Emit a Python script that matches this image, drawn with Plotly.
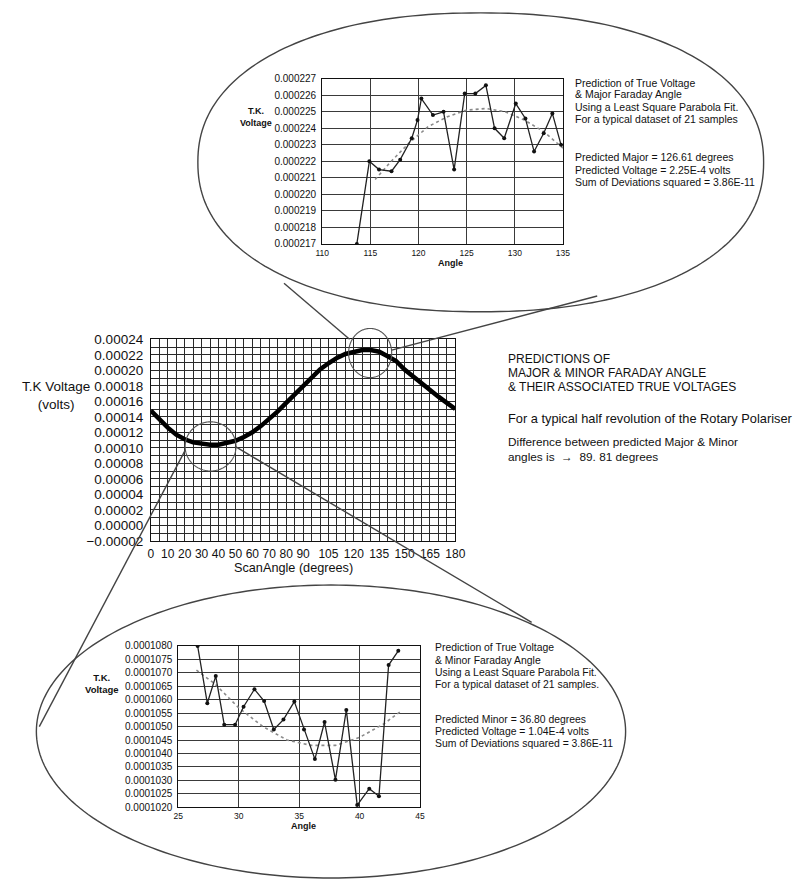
import numpy as np
import plotly.graph_objects as go

W, H = 802, 885

# ---------------- data ----------------
# Main chart: T.K. voltage against scan angle (half revolution)
scan_angle = [0, 5, 10, 15, 20, 25, 30, 35, 40, 45, 50, 55, 60, 65, 70, 75, 80, 85, 90,
              95, 100, 105, 110, 115, 120, 125, 130, 135, 140, 145, 150, 155, 160, 165,
              170, 175, 180]
tk_voltage = [0.000148, 0.000136, 0.000126, 0.000117, 0.000111, 0.000107, 0.000105,
              0.000104, 0.000104, 0.000106, 0.000109, 0.000114, 0.000120, 0.000128,
              0.000137, 0.000147, 0.000158, 0.000169, 0.000180, 0.000191, 0.000201,
              0.000209, 0.000216, 0.000221, 0.000224, 0.000226, 0.000226, 0.000224,
              0.000218, 0.000212, 0.000201, 0.000192, 0.000183, 0.000174, 0.000166,
              0.000158, 0.000150]
main_tickvals = [0, 10, 20, 30, 40, 50, 60, 70, 80, 90, 105, 120, 135, 150, 165, 180]
main_ytickvals = [-0.00002, 0.0, 0.00002, 0.00004, 0.00006, 0.00008, 0.00010, 0.00012,
                  0.00014, 0.00016, 0.00018, 0.00020, 0.00022, 0.00024]

# Top inset: major Faraday angle samples
major_angle = [113.6, 114.9, 115.9, 117.2, 118.1, 119.3, 119.9, 120.3, 121.5, 122.6, 123.7,
               124.8, 125.9, 127.0, 127.9, 128.9, 130.1, 131.1, 132.0, 133.0, 133.9, 134.8]
major_volt = [0.0002170, 0.0002220, 0.0002215, 0.0002214, 0.0002221, 0.0002234, 0.0002245,
              0.0002258, 0.0002248, 0.0002250, 0.0002215, 0.0002261, 0.0002261, 0.0002266,
              0.0002240, 0.0002234, 0.0002255, 0.0002246, 0.0002226, 0.0002237, 0.0002249,
              0.0002230]
major_fit_angle = [115.5, 117, 119, 121, 123, 125, 127, 129, 131, 133, 135]
major_fit_volt = [0.0002209, 0.0002219, 0.0002231, 0.0002241, 0.0002247, 0.0002251,
                  0.0002252, 0.0002250, 0.0002245, 0.0002238, 0.0002228]

# Bottom inset: minor Faraday angle samples
minor_angle = [26.6, 27.4, 28.1, 28.8, 29.7, 30.4, 31.3, 32.1, 32.9, 33.7, 34.6, 35.4,
               36.3, 37.1, 38.0, 38.9, 39.8, 40.8, 41.6, 42.4, 43.2]
minor_volt = [0.0001080, 0.00010587, 0.00010688, 0.00010507, 0.00010507, 0.00010574,
              0.00010639, 0.00010595, 0.00010489, 0.00010526, 0.00010593, 0.00010489,
              0.00010379, 0.00010517, 0.00010302, 0.00010562, 0.00010208, 0.00010269,
              0.00010241, 0.00010729, 0.00010782]
minor_fit_angle = [26.5, 28, 30, 32, 34, 36, 38, 40, 42, 43.5]
minor_fit_volt = [0.0001071, 0.0001066, 0.0001057, 0.0001050, 0.0001045, 0.0001043,
                  0.0001043, 0.0001046, 0.0001051, 0.0001056]

top_text = ["Prediction of True Voltage", "& Major Faraday Angle",
            "Using a Least Square Parabola Fit.", "For a typical dataset of 21 samples",
            "Predicted Major = 126.61 degrees", "Predicted Voltage = 2.25E-4 volts",
            "Sum of Deviations squared = 3.86E-11"]
bottom_text = ["Prediction of True Voltage", "& Minor Faraday Angle",
               "Using a Least Square Parabola Fit.", "For a typical dataset of 21 samples.",
               "Predicted Minor = 36.80 degrees", "Predicted Voltage = 1.04E-4 volts",
               "Sum of Deviations squared = 3.86E-11"]
main_caps_text = ["PREDICTIONS OF", "MAJOR & MINOR FARADAY ANGLE",
                  "& THEIR ASSOCIATED TRUE VOLTAGES"]
main_note = "For a typical half revolution of the Rotary Polariser"
main_diff = ["Difference between predicted Major & Minor",
             "angles is  \u2192  89. 81 degrees"]

FONT = "Liberation Sans, Arial, sans-serif"
INK = "#111111"


def px(x):
    return x / W


def py(y):
    return 1 - y / H


fig = go.Figure()

# main curve
fig.add_trace(go.Scatter(x=scan_angle, y=tk_voltage, mode="lines",
                         line=dict(color="black", width=4.5), xaxis="x", yaxis="y",
                         showlegend=False))
# top inset
fig.add_trace(go.Scatter(x=major_fit_angle, y=major_fit_volt, mode="lines",
                         line=dict(color="#8a8a8a", width=1.6, dash="dot"),
                         xaxis="x2", yaxis="y2", showlegend=False))
fig.add_trace(go.Scatter(x=major_angle, y=major_volt, mode="lines+markers",
                         line=dict(color="#222", width=1.3),
                         marker=dict(color="#111", size=4),
                         xaxis="x2", yaxis="y2", showlegend=False))
# bottom inset
fig.add_trace(go.Scatter(x=minor_fit_angle, y=minor_fit_volt, mode="lines",
                         line=dict(color="#8a8a8a", width=1.6, dash="dot"),
                         xaxis="x3", yaxis="y3", showlegend=False))
fig.add_trace(go.Scatter(x=minor_angle, y=minor_volt, mode="lines+markers",
                         line=dict(color="#222", width=1.3),
                         marker=dict(color="#111", size=4),
                         xaxis="x3", yaxis="y3", showlegend=False))

grid_main = "#2a2a2a"
grid_in = "#3a3a3a"

common_axis = dict(showline=True, linecolor="#111", linewidth=1, mirror=True,
                   zeroline=False, ticks="", color=INK)

fig.update_layout(
    width=W, height=H, margin=dict(l=0, r=0, t=0, b=0),
    paper_bgcolor="white", plot_bgcolor="white",
    font=dict(family=FONT, color=INK),
    xaxis=dict(domain=[px(147), px(458)], range=[0, 180], anchor="y",
               tickmode="array", tickvals=main_tickvals,
               ticktext=[str(v) for v in main_tickvals],
               showgrid=True, gridcolor=grid_main, gridwidth=1,
               minor=dict(tickmode="linear", tick0=0, dtick=5, showgrid=True,
                          gridcolor=grid_main, gridwidth=1),
               tickfont=dict(size=12), ticklabelstandoff=2, **common_axis),
    yaxis=dict(domain=[py(543), py(338)], range=[-0.00002, 0.00024], anchor="x",
               tickmode="array", tickvals=main_ytickvals, tickformat=".5f",
               showgrid=True, gridcolor=grid_main, gridwidth=1,
               minor=dict(tickmode="linear", tick0=0, dtick=0.00001, showgrid=True,
                          gridcolor=grid_main, gridwidth=1),
               tickfont=dict(size=13.5), ticklabelstandoff=4, **common_axis),
    xaxis2=dict(domain=[px(322), px(568)], range=[110, 135], anchor="y2",
                dtick=5, tick0=110, showgrid=True, gridcolor=grid_in, gridwidth=1,
                tickfont=dict(size=8.5), ticklabelstandoff=1, **common_axis),
    yaxis2=dict(domain=[py(241), py(73)], range=[0.000217, 0.000227], anchor="x2",
                dtick=0.000001, tick0=0.000217, tickformat=".6f",
                showgrid=True, gridcolor=grid_in, gridwidth=1,
                tickfont=dict(size=10), ticklabelstandoff=3, **common_axis),
    xaxis3=dict(domain=[px(175), px(422)], range=[25, 45], anchor="y3",
                dtick=5, tick0=25, showgrid=True, gridcolor=grid_in, gridwidth=1,
                tickfont=dict(size=8.5), ticklabelstandoff=1, **common_axis),
    yaxis3=dict(domain=[py(814), py(650)], range=[0.000102, 0.000108], anchor="x3",
                dtick=0.0000005, tick0=0.000102, tickformat=".7f",
                showgrid=True, gridcolor=grid_in, gridwidth=1,
                tickfont=dict(size=10), ticklabelstandoff=3, **common_axis),
)


def oval_path(cx, cy, rx, ry, n=2.0, steps=240):
    pts = []
    for t in np.linspace(0, 2 * np.pi, steps, endpoint=False):
        c, s = np.cos(t), np.sin(t)
        x = cx + rx * np.sign(c) * abs(c) ** (2 / n)
        y = cy + ry * np.sign(s) * abs(s) ** (2 / n)
        pts.append(f"{px(x):.5f},{py(y):.5f}")
    return "M " + " L ".join(pts) + " Z"


line_style = dict(color="#444444", width=1.4)
shapes = [
    dict(type="path", xref="paper", yref="paper", path=oval_path(484, 158, 289, 152, 2.2),
         line=line_style, layer="above"),
    dict(type="path", xref="paper", yref="paper", path=oval_path(331, 737, 301, 149, 2.0),
         line=line_style, layer="above"),
    dict(type="path", xref="paper", yref="paper", path=oval_path(371, 352, 22, 25, 2.0),
         line=dict(color="#555", width=1.1), layer="above"),
    dict(type="path", xref="paper", yref="paper", path=oval_path(208, 447, 26, 25, 2.0),
         line=dict(color="#555", width=1.1), layer="above"),
]
for (x0, y0, x1, y1) in [(283, 281, 350, 338), (393, 349, 603, 294),
                         (182, 451, 33, 732), (233, 447, 536, 626)]:
    shapes.append(dict(type="line", xref="paper", yref="paper",
                       x0=px(x0), y0=py(y0), x1=px(x1), y1=py(y1),
                       line=line_style, layer="above"))
fig.update_layout(shapes=shapes)

ann = []


def label(x, y, text, size, anchor="center", bold=False):
    t = f"<b>{text}</b>" if bold else text
    ann.append(dict(x=px(x), y=py(y), xref="paper", yref="paper", text=t,
                    showarrow=False, xanchor=anchor, yanchor="middle", align="left"
                    if anchor == "left" else "center",
                    font=dict(size=size, family=FONT, color=INK)))


label(50, 395, "T.K Voltage<br>(volts)", 13.5)
label(293, 571, "ScanAngle (degrees)", 12.7)
label(254, 112, "T.K.<br>Voltage", 9, bold=True)
label(453, 260, "Angle", 9, bold=True)
label(97, 688, "T.K.<br>Voltage", 9.5, bold=True)
label(303, 833, "Angle", 9, bold=True)

for txt, yy in zip(top_text, [77, 89, 102, 114, 153, 166, 178]):
    label(578, yy, txt, 10.5, anchor="left")
for txt, yy in zip(bottom_text, [652, 665, 677, 689, 725, 737, 749]):
    label(435, yy, txt, 10.4, anchor="left")
for txt, yy in zip(main_caps_text, [358, 372, 387]):
    label(510, yy, txt, 12, anchor="left")
label(510, 419, main_note, 12.8, anchor="left")
label(510, 450, "<br>".join(main_diff), 11.8, anchor="left")

fig.update_layout(annotations=ann)

fig.write_html("out.html", config={"displayModeBar": False},
               post_script="document.body.style.margin='0';")
